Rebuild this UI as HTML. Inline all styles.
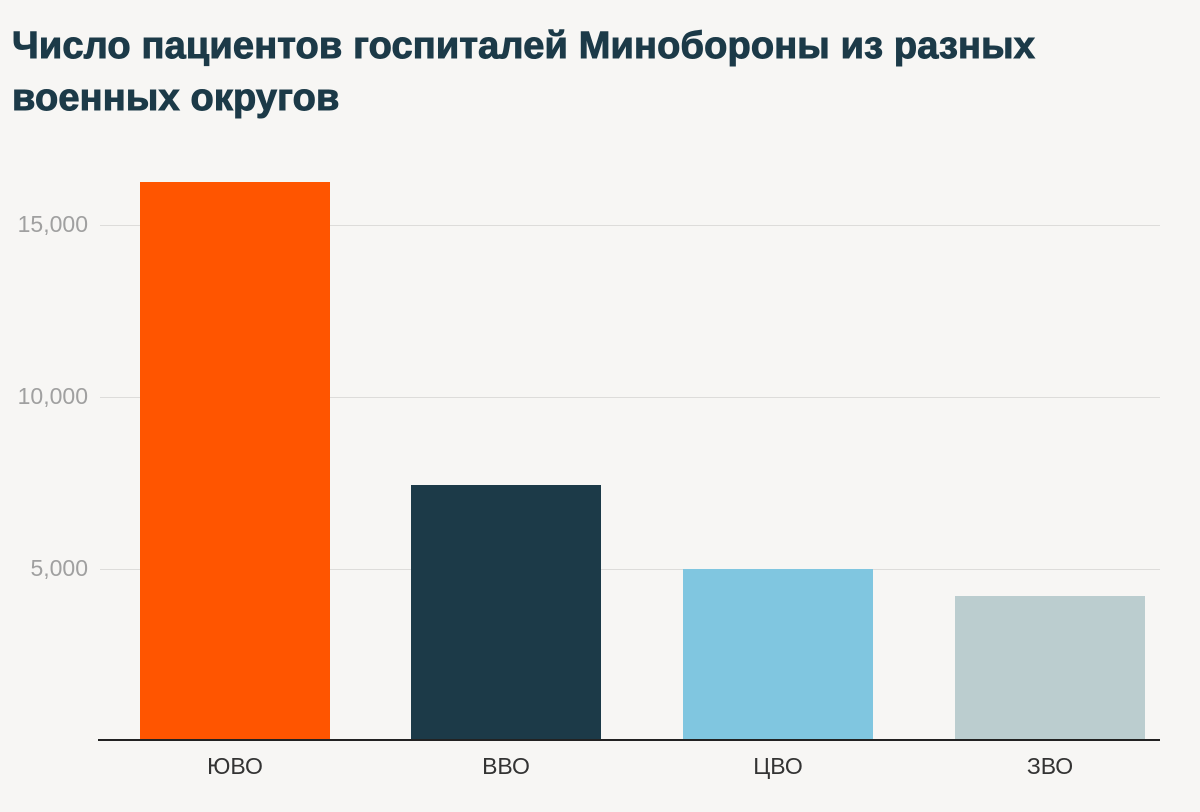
<!DOCTYPE html>
<html><head><meta charset="utf-8"><style>
html,body{margin:0;padding:0;background:#f7f6f4;}
body{width:1200px;height:812px;position:relative;overflow:hidden;font-family:"Liberation Sans",sans-serif;}
.t{position:absolute;left:12px;top:20px;font-size:38px;font-weight:bold;color:#1c3a48;line-height:52px;letter-spacing:0.15px;width:1180px;-webkit-text-stroke:1px #1c3a48;}
.g{position:absolute;left:100px;width:1060px;height:1px;background:#dddcda;}
.y{position:absolute;left:0;width:88px;text-align:right;font-size:23px;color:#a0a0a0;}
.b{position:absolute;width:190px;}
.x{position:absolute;top:753px;width:190px;text-align:center;font-size:23px;color:#333;}
</style></head><body>
<div class="t">Число пациентов госпиталей Минобороны из разных<br>военных округов</div>
<div class="g" style="top:225px"></div>
<div class="g" style="top:397px"></div>
<div class="g" style="top:569px"></div>
<div class="y" style="top:211px">15,000</div>
<div class="y" style="top:383px">10,000</div>
<div class="y" style="top:555px">5,000</div>
<div class="b" style="left:140px;top:182px;height:558px;background:#ff5500"></div>
<div class="b" style="left:411px;top:485px;height:255px;background:#1c3a48"></div>
<div class="b" style="left:683px;top:569px;height:171px;background:#80c6e0"></div>
<div class="b" style="left:955px;top:596px;height:144px;background:#bbcdcf"></div>
<div style="position:absolute;left:98px;top:739px;width:1062px;height:2px;background:#222"></div>
<div class="x" style="left:140px">ЮВО</div>
<div class="x" style="left:411px">ВВО</div>
<div class="x" style="left:683px">ЦВО</div>
<div class="x" style="left:955px">ЗВО</div>
</body></html>
